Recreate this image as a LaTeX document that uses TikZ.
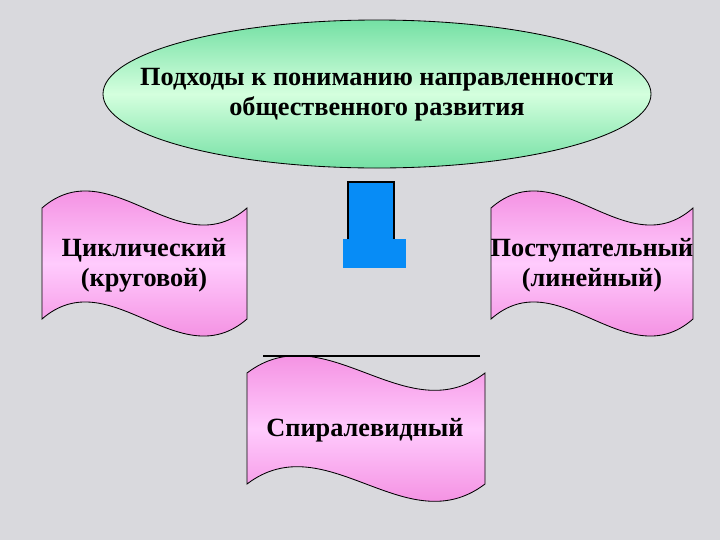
\documentclass[tikz,border=0pt]{standalone}
\usepackage{fontspec}
\setmainfont{Liberation Serif}[BoldFont={Liberation Serif Bold}]
\usetikzlibrary{shapes.geometric}
\definecolor{marble}{HTML}{D9D9DD}
\definecolor{mintdark}{HTML}{74E0A4}
\definecolor{mintlight}{HTML}{D4FFDE}
\definecolor{pinkdark}{HTML}{EE72D4}
\definecolor{pinklight}{HTML}{FFCBFD}
\definecolor{stubblue}{HTML}{078CF6}
\begin{document}
\begin{tikzpicture}[x=0.025cm,y=-0.025cm,
    topic/.style={draw,line width=0.6pt,top color=mintdark,bottom color=mintdark,middle color=mintlight},
    wave/.style={draw,line width=0.6pt,top color=pinkdark,bottom color=pinkdark,middle color=pinklight},
    wave text/.style={align=center,inner sep=0pt,font=\bfseries\fontsize{18.7}{21.5}\selectfont}]
    \useasboundingbox[fill=marble] (0,0) rectangle (720,540);

    % top ellipse
    \path[topic] (377,94) ellipse [x radius=274,y radius=74];
    \node[wave text] (topic) at (377,95) {Подходы к пониманию направленности\\общественного развития};

    % blue stub under the ellipse
    \fill[stubblue] (348,182) rectangle (394,239);
    \fill[stubblue] (343,239) rectangle (406,268);
    \draw[line width=0.8pt] (348,239) -- (348,182) -- (394,182) -- (394,239);

    % banners
    \path[wave] (42,208) .. controls (110,149) and (179,267) .. (247,208) -- (247,319)
        .. controls (179,378) and (110,260) .. (42,319) -- cycle;
    \path[wave] (491,208) .. controls (558,149) and (626,267) .. (693,208) -- (693,319)
        .. controls (626,378) and (558,260) .. (491,319) -- cycle;
    \path[wave] (247,373) .. controls (326,313) and (406,433) .. (485,373) -- (485,484)
        .. controls (406,544) and (326,424) .. (247,484) -- cycle;
    \draw[line width=1.2pt] (263,356) -- (480,356);

    \node[wave text] (cyclic) at (144,265) {Циклический\\(круговой)};
    \node[wave text] (linear) at (592,265) {Поступательный\\(линейный)};
    \node[wave text] (spiral) at (365,430) {Спиралевидный};
\end{tikzpicture}
\end{document}
